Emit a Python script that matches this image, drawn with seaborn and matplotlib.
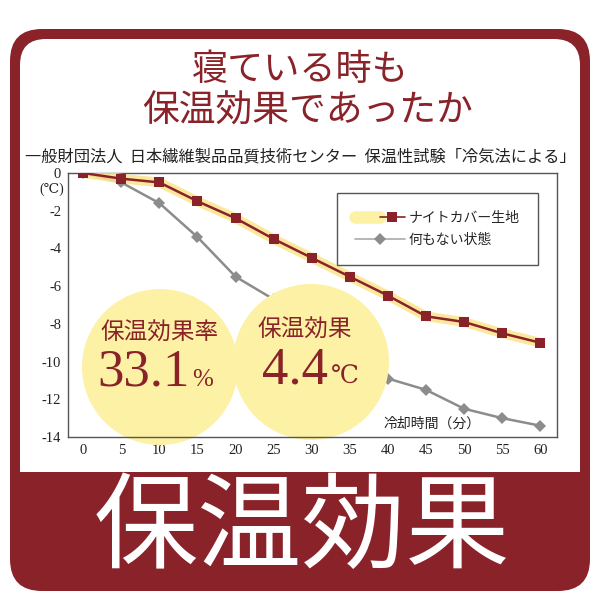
import numpy as np
import pandas as pd
import matplotlib
matplotlib.use("Agg")
import matplotlib.pyplot as plt
import seaborn as sns
from matplotlib.patches import FancyBboxPatch, Rectangle, Circle
from matplotlib.lines import Line2D
from matplotlib.legend_handler import HandlerTuple

# data
minutes = [0, 5, 10, 15, 20, 25, 30, 35, 40, 45, 50, 55, 60]
night_cover = [0, -0.3, -0.5, -1.5, -2.4, -3.5, -4.5, -5.5, -6.5, -7.6, -7.9, -8.5, -9.0]
nothing = [0, -0.5, -1.6, -3.4, -5.5, -6.7, -8.2, -9.7, -10.9, -11.5, -12.5, -13.0, -13.4]
series_names = ['ナイトカバー生地', '何もない状態']
y_ticks = [0, -2, -4, -6, -8, -10, -12, -14]

title_lines = ['寝ている時も', '保温効果であったか']
subtitle = '一般財団法人  日本繊維製品品質技術センター  保温性試験「冷気法による」'
rate_label, rate_value = '保温効果率', '33.1'
effect_label, effect_value = '保温効果', '4.4'
banner = '保温効果'

RED = '#8a2329'
YEL = '#fcf1a4'
GREY = '#8c8c8c'
JP = ['Noto Sans CJK JP', 'DejaVu Sans']
SERIF = ['Liberation Serif', 'DejaVu Serif']

sns.set_theme(style="white")
plt.rcParams['font.family'] = JP

fig = plt.figure(figsize=(6, 6), dpi=100)
deco = fig.add_axes([0, 0, 1, 1], zorder=-1)
deco.set_xlim(0, 600)
deco.set_ylim(600, 0)
deco.axis('off')

# frame
deco.add_patch(FancyBboxPatch((10, 29), 580, 562, boxstyle="round,pad=0,rounding_size=32",
                              fc=RED, ec='none'))
deco.add_patch(FancyBboxPatch((20, 39), 560, 460, boxstyle="round,pad=0,rounding_size=26",
                              fc='white', ec='none'))
deco.add_patch(Rectangle((20, 472), 560, 40, fc=RED, ec='none'))

deco.text(300, 70, title_lines[0], ha='center', va='center', fontsize=26, color=RED)
deco.text(308, 111, title_lines[1], ha='center', va='center', fontsize=26.5, color=RED)
deco.text(300, 157, subtitle, ha='center', va='center', fontsize=11.7, color='#222222')
deco.text(302, 530, banner, ha='center', va='center', fontsize=75, color='white')

ax = fig.add_axes([68 / 600, 1 - 437 / 600, 489 / 600, 264 / 600], zorder=1)
ax.set_facecolor('none')

df = pd.DataFrame({'min': minutes, 'cover': night_cover, 'none': nothing})
sns.lineplot(data=df, x='min', y='none', ax=ax, color=GREY, lw=1.8, marker='D',
             markersize=6.5, markeredgewidth=0, zorder=2)
sns.lineplot(data=df, x='min', y='cover', ax=ax, color='#fbe58c', lw=7, alpha=0.85,
             zorder=3)
sns.lineplot(data=df, x='min', y='cover', ax=ax, color=RED, lw=1.8, marker='s',
             markersize=7.5, markeredgewidth=0, zorder=4)

# yellow circles drawn in pixel space above the grey line
for cx, cy in [(160, 367), (311, 362)]:
    c = Circle((cx, cy), 78, fc=YEL, ec='none', zorder=2.5, clip_on=False)
    c.set_transform(deco.transData)
    ax.add_patch(c)

def put(x, y, s, **kw):
    t = ax.text(x, y, s, transform=deco.transData, clip_on=False, zorder=5, **kw)
    return t

put(160, 333, rate_label, ha='center', va='center', fontsize=17, color=RED)
put(144, 372, rate_value, ha='center', va='center', fontsize=38, color=RED, family=SERIF)
put(203, 380, '%', ha='center', va='center', fontsize=18, color=RED, family=SERIF)
put(305, 330, effect_label, ha='center', va='center', fontsize=17, color=RED)
put(295, 370, effect_value, ha='center', va='center', fontsize=38, color=RED, family=SERIF)
put(345, 378, '℃', ha='center', va='center', fontsize=18, color=RED, family=SERIF)

ax.set_xlim(-2, 62.2)
ax.set_ylim(-14, 0)
ax.set_xticks(minutes)
ax.set_yticks(y_ticks)
ax.set_xticklabels([str(m) for m in minutes], family=SERIF, fontsize=10.5)
ax.set_yticklabels([str(v) for v in y_ticks], family=SERIF, fontsize=10.5)
ax.tick_params(length=0, pad=5, colors='#222222')
ax.set_xlabel('')
ax.set_ylabel('')
for s in ax.spines.values():
    s.set_color('#555555')
    s.set_linewidth(1)
put(52, 189, '(℃)', ha='center', va='center', fontsize=10, color='#222222', family=SERIF)
put(432, 424, '冷却時間（分）', ha='center', va='center', fontsize=10, color='#222222')

h1 = (Line2D([], [], color=YEL, lw=9), Line2D([], [], color=RED, lw=1.2, marker='s',
                                               markersize=7, markeredgewidth=0))
h2 = Line2D([], [], color='#aaaaaa', lw=1.2, marker='D', markersize=6, markeredgewidth=0,
            markerfacecolor=GREY)
leg = ax.legend([h1, h2], series_names, handler_map={tuple: HandlerTuple(ndivide=None, pad=0)},
                loc='upper right', bbox_to_anchor=(545 / 600, 1 - 186 / 600),
                bbox_transform=fig.transFigure, fancybox=False, framealpha=1,
                edgecolor='#555555', fontsize=10, handlelength=3.6, borderpad=1.3,
                labelspacing=0.6, handletextpad=0.3)
leg.get_frame().set_linewidth(1)
leg.set_zorder(6)

fig.savefig('out.png', dpi=100)
